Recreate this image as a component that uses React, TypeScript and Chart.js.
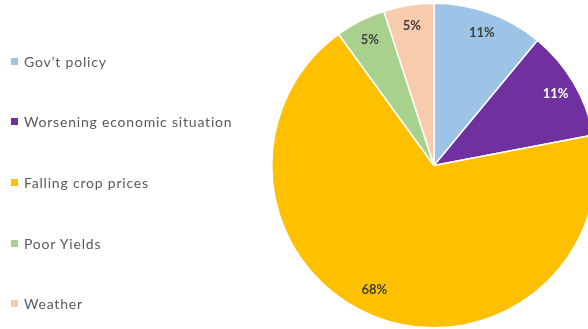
import React, { useEffect, useRef } from "react";
import { Chart, registerables } from "chart.js";

Chart.register(...registerables);

const categories = ["Gov’t policy", "Worsening economic situation", "Falling crop prices", "Poor Yields", "Weather"];
const values = [11, 11, 68, 5, 5];
const colors = ["#9DC3E6", "#7030A0", "#FFC000", "#A9D18E", "#F8CBAD"];
const labelColors = ["#404040", "#FFFFFF", "#404040", "#404040", "#404040"];

const labelPlugin = {
  id: "sliceLabels",
  afterDatasetsDraw(chart: any) {
    const ctx = chart.ctx;
    const meta = chart.getDatasetMeta(0);
    const total = values.reduce((a, b) => a + b, 0);
    ctx.save();
    ctx.font = "bold 13px Lato, 'Open Sans', sans-serif";
    ctx.textAlign = "center";
    ctx.textBaseline = "middle";
    meta.data.forEach((arc: any, i: number) => {
      const { x, y, startAngle, endAngle, outerRadius } = arc.getProps(["x", "y", "startAngle", "endAngle", "outerRadius"], true);
      const mid = (startAngle + endAngle) / 2 + (values[i] > 50 ? 0.07 : 0);
      const r = outerRadius * (values[i] > 50 ? 0.85 : 0.87);
      ctx.fillStyle = labelColors[i];
      ctx.fillText(Math.round((values[i] / total) * 100) + "%", x + Math.cos(mid) * r, y + Math.sin(mid) * r);
    });
    ctx.restore();
  },
};

export default function App() {
  const ref = useRef<HTMLCanvasElement | null>(null);
  useEffect(() => {
    if (!ref.current) return;
    const chart = new Chart(ref.current, {
      type: "pie",
      data: {
        labels: categories,
        datasets: [
          {
            data: values,
            backgroundColor: colors,
            borderColor: "#FFFFFF",
            borderWidth: 1.5,
          },
        ],
      },
      options: {
        animation: false,
        responsive: false,
        layout: { padding: { left: 271, top: 2, right: 23, bottom: 11 } },
        plugins: { legend: { display: false }, tooltip: { enabled: false } },
      },
      plugins: [labelPlugin],
    });
    return () => chart.destroy();
  }, []);

  return (
    <div style={{ position: "fixed", left: 0, top: 0, width: 588, height: 329, overflow: "hidden", background: "#fff" }}>
      <canvas ref={ref} width={620} height={340} style={{ position: "absolute", left: 0, top: 0, width: 620, height: 340 }} />
      {categories.map((c, i) => (
        <div
          key={c}
          style={{
            position: "absolute",
            left: 11,
            top: 52 + i * 60.7,
            height: 18,
            display: "flex",
            alignItems: "center",
            fontFamily: "Lato, 'Open Sans', sans-serif",
            fontSize: 14,
            letterSpacing: 0.8,
            color: "#595959",
            whiteSpace: "nowrap",
          }}
        >
          <span style={{ display: "inline-block", width: 7, height: 7, background: colors[i], marginRight: 6 }} />
          <span>{c}</span>
        </div>
      ))}
    </div>
  );
}
